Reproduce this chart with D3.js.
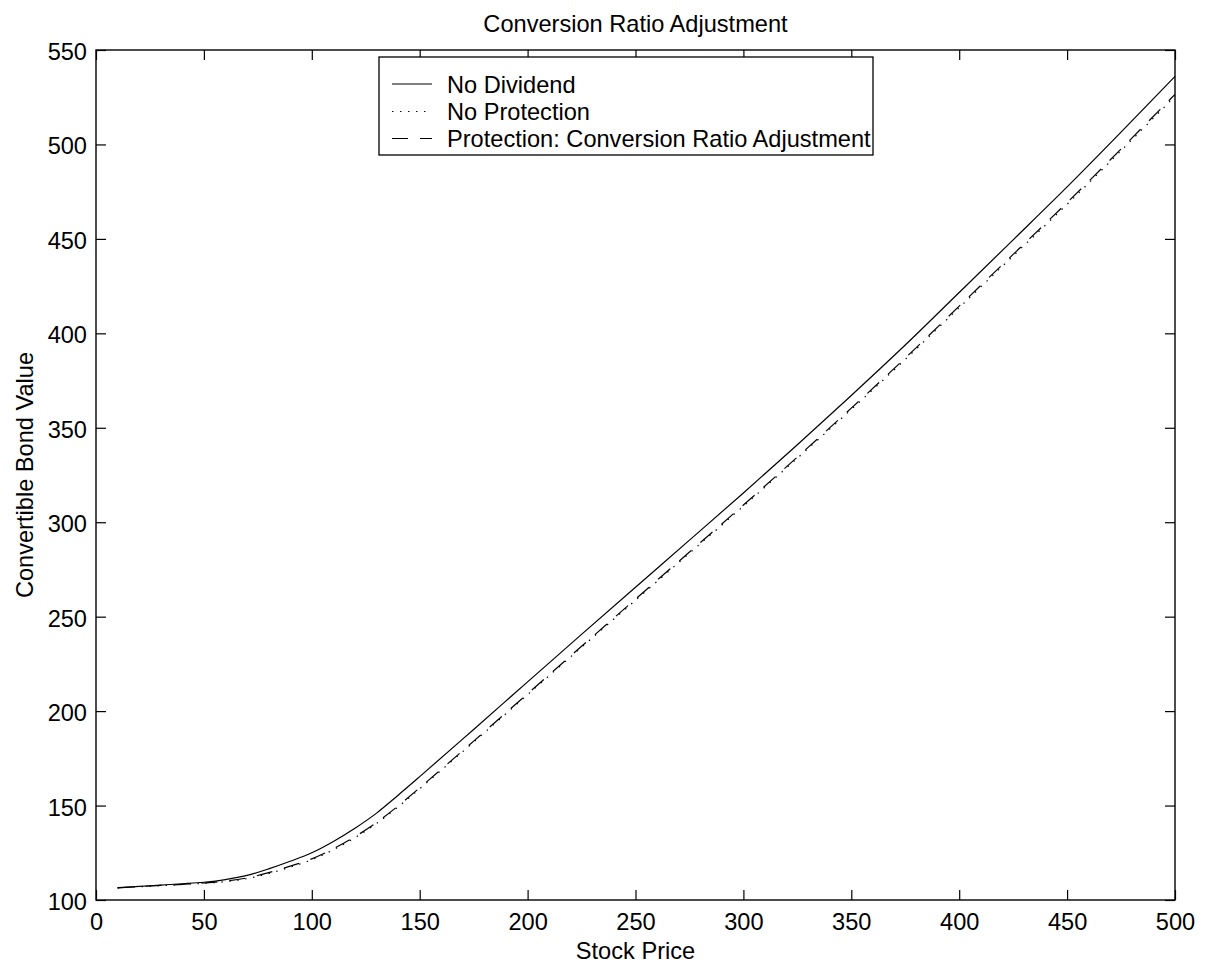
<!DOCTYPE html>
<html><head><meta charset="utf-8">
<script src="https://cdn.jsdelivr.net/npm/d3@7"></script>
<style>
body{margin:0;background:#fff}
svg text{font-family:"Liberation Sans",Arial,Helvetica,sans-serif;fill:#000}
</style>
</head><body>
<svg id="c" width="1205" height="965"></svg>
<script>
const stockPrice = [10,20,30,40,50,60,70,80,90,100,110,120,130,140,150,175,200,225,250,275,300,325,350,375,400,425,450,475,500];
const noDividend = [106.5,107.2,107.9,108.6,109.4,110.8,113.0,116.5,120.5,125.0,131.0,138.0,146.0,155.5,165.3,190.3,215.5,240.6,265.6,290.5,315.5,341.0,367.1,393.8,421.6,449.5,477.5,506.5,536.0];
const noProtection = [106.4,107.0,107.6,108.2,108.8,109.7,111.3,114.0,117.4,121.3,126.6,133.0,140.5,149.3,158.9,183.6,208.7,233.8,258.7,283.6,308.5,333.9,359.7,386.2,413.6,441.0,468.3,496.7,525.5];
const protectionCRA = [106.4,107.1,107.7,108.3,109.0,110.0,111.7,114.5,117.9,121.8,127.1,133.5,141.0,149.8,159.4,184.1,209.2,234.3,259.3,284.2,309.1,334.5,360.4,386.9,414.4,441.8,469.2,497.6,526.5];
const seriesNames = ["No Dividend","No Protection","Protection: Conversion Ratio Adjustment"];
const xTicks = [0,50,100,150,200,250,300,350,400,450,500];
const yTicks = [100,150,200,250,300,350,400,450,500,550];
const titleText = "Conversion Ratio Adjustment";
const xLabel = "Stock Price";
const yLabel = "Convertible Bond Value";

const svg = d3.select("#c");
svg.append("rect").attr("width",1205).attr("height",965).attr("fill","#fff");
const L=96,R=1175,T=50,B=900;
const x = d3.scaleLinear().domain([0,500]).range([L,R]);
const y = d3.scaleLinear().domain([100,550]).range([B,T]);
const FS = 23.6;

function styleAxis(g){
  g.attr("font-family",null).attr("font-size",null);
  g.selectAll(".domain").remove();
  g.selectAll(".tick line").attr("stroke","#000").attr("stroke-width",1.2);
  g.selectAll(".tick text").attr("font-size",FS);
}
svg.append("g").attr("transform",`translate(0,${B})`)
  .call(d3.axisBottom(x).tickValues(xTicks).tickSizeInner(-10).tickSizeOuter(0).tickPadding(13).tickFormat(d3.format("d")))
  .call(styleAxis);
svg.append("g").attr("transform",`translate(${L},0)`)
  .call(d3.axisLeft(y).tickValues(yTicks).tickSizeInner(-10).tickSizeOuter(0).tickPadding(9).tickFormat(d3.format("d")))
  .call(styleAxis)
  .call(g=>g.selectAll(".tick text").attr("dy","0.4em"));
svg.append("g").attr("transform",`translate(0,${T})`)
  .call(d3.axisTop(x).tickValues(xTicks).tickSizeInner(-10).tickSizeOuter(0).tickFormat(""))
  .call(styleAxis);
svg.append("g").attr("transform",`translate(${R},0)`)
  .call(d3.axisRight(y).tickValues(yTicks).tickSizeInner(-10).tickSizeOuter(0).tickFormat(""))
  .call(styleAxis);

svg.append("rect").attr("x",L).attr("y",T).attr("width",R-L).attr("height",B-T)
  .attr("fill","none").attr("stroke","#000").attr("stroke-width",1.4);

const line = d3.line().x(d=>x(d[0])).y(d=>y(d[1])).curve(d3.curveMonotoneX);
const styles = [
  {dash:null},
  {dash:"1.4,6.6"},
  {dash:"16,12"}
];
const series = [noDividend, noProtection, protectionCRA];
series.forEach((vals,i)=>{
  svg.append("path").datum(stockPrice.map((s,j)=>[s,vals[j]]))
    .attr("d",line).attr("fill","none").attr("stroke","#000")
    .attr("stroke-width",1.2).attr("stroke-dasharray",styles[i].dash);
});

// title & labels
svg.append("text").attr("x",(L+R)/2).attr("y",32).attr("text-anchor","middle").attr("font-size",FS).text(titleText);
svg.append("text").attr("x",(L+R)/2).attr("y",959).attr("text-anchor","middle").attr("font-size",FS).text(xLabel);
svg.append("text").attr("transform",`translate(32.5,${(T+B)/2}) rotate(-90)`).attr("text-anchor","middle").attr("font-size",FS).text(yLabel);

// legend
const lg = svg.append("g");
lg.append("rect").attr("x",379).attr("y",57).attr("width",494).attr("height",98)
  .attr("fill","#fff").attr("stroke","#000").attr("stroke-width",1.3);
const rowY = [84,111.5,138.5];
seriesNames.forEach((n,i)=>{
  lg.append("line").attr("x1",392).attr("x2",432).attr("y1",rowY[i]).attr("y2",rowY[i])
    .attr("stroke","#000").attr("stroke-width",1.2).attr("stroke-dasharray",styles[i].dash);
  lg.append("text").attr("x",447).attr("y",rowY[i]+8.5).attr("font-size",FS).text(n);
});
</script>
</body></html>
